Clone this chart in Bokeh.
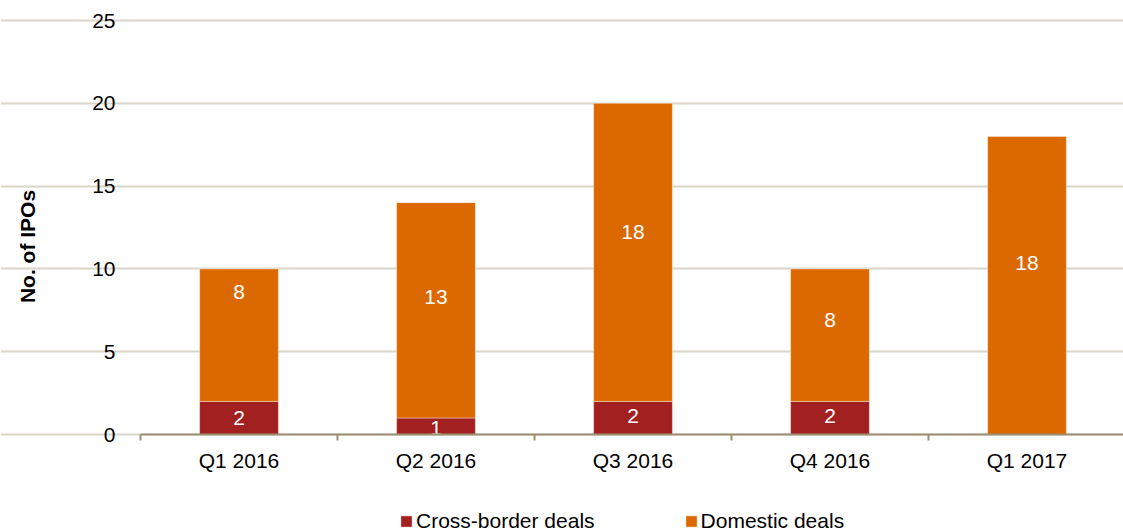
import numpy as np
from bokeh.plotting import figure
from bokeh.models import (ColumnDataSource, Range1d, FixedTicker, Legend,
                          LegendItem, Label)
from bokeh.core.properties import value
from bokeh.embed import file_html
from bokeh.resources import INLINE

# ---------------- data ----------------
quarters = ["Q1 2016", "Q2 2016", "Q3 2016", "Q4 2016", "Q1 2017"]
cross_border = [2, 1, 2, 2, 0]
domestic = [8, 13, 18, 8, 18]
y_ticks = [0, 5, 10, 15, 20, 25]
series_names = ["Cross-border deals", "Domestic deals"]
y_title = "No. of IPOs"

# ---------------- styling / layout ----------------
FONT = "Liberation Sans"
FS = "21px"
RED = "#A32020"
ORANGE = "#DC6900"
GRID = "#D9D5CB"
AXIS = "#9C8F72"
W, H = 1123, 531
X0_PX, CAT_PX = 140, 197          # plot origin / category width (pixels)
Y0_PX, YTOP_PX = 434, 20          # pixel rows of y=0 and y=25
YMAX = 25
ppu = (Y0_PX - YTOP_PX) / YMAX
# label nudges in screen pixels (positive = up)
cross_nudge = [0, -2, 2, 2, 0]
dom_nudge = [43, 13, 20, 15, 22]

n = len(quarters)
xc = np.arange(n) + 0.5
src = ColumnDataSource(dict(x=xc, cross=cross_border, dom=domestic))

p = figure(width=W, height=H, output_backend="svg", toolbar_location=None,
           x_range=Range1d(-X0_PX / CAT_PX, (W - X0_PX) / CAT_PX),
           y_range=Range1d(-(H - Y0_PX) / ppu, YMAX + YTOP_PX / ppu),
           min_border=0)
p.outline_line_color = None
p.background_fill_color = "white"
p.border_fill_color = "white"

rs = p.vbar_stack(["cross", "dom"], x="x", width=0.4, source=src,
                  fill_color=[RED, ORANGE], line_color="white",
                  line_width=0.8, line_alpha=0.5)

# data labels
lx, ly, lt, lo = [], [], [], []
for i in range(n):
    c, d = cross_border[i], domestic[i]
    if c > 0:
        lx.append(xc[i]); ly.append(c / 2); lt.append(str(c)); lo.append(-cross_nudge[i])
    if d > 0:
        lx.append(xc[i]); ly.append(c + d / 2); lt.append(str(d)); lo.append(-dom_nudge[i])
lsrc = ColumnDataSource(dict(x=lx, y=ly, t=lt, o=lo))
p.text(x="x", y="y", text="t", y_offset="o", source=lsrc, text_align="center",
       text_baseline="middle", text_color="white", text_font=value(FONT),
       text_font_size=FS)

# grid
p.xgrid.visible = False
p.xgrid.grid_line_color = None
p.ygrid.ticker = FixedTicker(ticks=y_ticks)
p.ygrid.bounds = (0, n)
p.ygrid.grid_line_color = GRID
p.ygrid.grid_line_width = 2

# x axis
xa = p.xaxis[0]
xa.fixed_location = 0
xa.bounds = (0, n)
xa.ticker = FixedTicker(ticks=list(xc), minor_ticks=list(range(n + 1)))
xa.major_label_overrides = {float(x): q for x, q in zip(xc, quarters)}
xa.major_tick_line_color = None
xa.minor_tick_in = 0
xa.minor_tick_out = 6
xa.minor_tick_line_color = AXIS
xa.minor_tick_line_width = 2
xa.axis_line_color = AXIS
xa.axis_line_width = 2
xa.major_label_standoff = 8
xa.major_label_text_font = FONT
xa.major_label_text_font_size = FS
xa.major_label_text_color = "#000000"

# y axis
ya = p.yaxis[0]
ya.fixed_location = 0
ya.bounds = (0, YMAX)
ya.ticker = FixedTicker(ticks=y_ticks)
ya.axis_line_color = None
ya.major_tick_line_color = None
ya.minor_tick_line_color = None
ya.major_label_standoff = 19
ya.major_label_text_font = FONT
ya.major_label_text_font_size = FS
ya.major_label_text_color = "#000000"

# y title
p.add_layout(Label(x=27, y=H - 246, x_units="screen", y_units="screen",
                   text=y_title, angle=np.pi / 2, text_align="center",
                   text_baseline="middle", text_font=FONT, text_font_size=FS,
                   text_font_style="bold", text_color="#000000"))

legend = Legend(items=[LegendItem(label=series_names[0], renderers=[rs[0]]),
                       LegendItem(label=series_names[1], renderers=[rs[1]])],
                orientation="horizontal", location=(399, -2), spacing=89,
                glyph_width=14, glyph_height=14, label_standoff=3, padding=0,
                margin=0, border_line_color=None, background_fill_alpha=0,
                label_text_font=FONT, label_text_font_size=FS,
                label_text_color="#000000")
p.add_layout(legend, "center")

open("out.html", "w").write(file_html(p, INLINE))
